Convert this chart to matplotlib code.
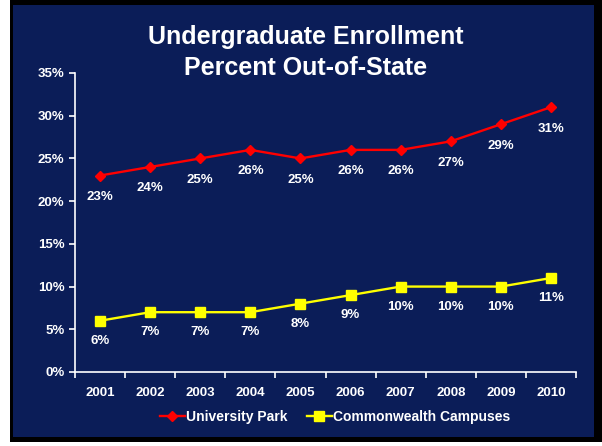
import matplotlib.pyplot as plt
from matplotlib.patches import Rectangle

plt.rcParams['font.family'] = ['Liberation Sans', 'DejaVu Sans']

years = ['2001', '2002', '2003', '2004', '2005', '2006', '2007', '2008', '2009', '2010']
univ_park = [23, 24, 25, 26, 25, 26, 26, 27, 29, 31]
commonwealth = [6, 7, 7, 7, 8, 9, 10, 10, 10, 11]

navy = '#0b1d58'
W, H = 602, 446

fig = plt.figure(figsize=(6.02, 4.46), dpi=100, facecolor='white')
# black frame + navy panel
fig.patches.append(Rectangle((10 / W, 4 / H), 592 / W, 442 / H, transform=fig.transFigure,
                             facecolor='black', edgecolor='none', zorder=-10))
fig.patches.append(Rectangle((13 / W, 9 / H), 581 / W, 432 / H, transform=fig.transFigure,
                             facecolor=navy, edgecolor='none', zorder=-9))

ax = fig.add_axes([75 / W, 1 - 372 / H, 501 / W, 299 / H])
ax.set_facecolor('none')
ax.set_zorder(2)

x = list(range(len(years)))
ax.plot(x, univ_park, color='#ff0000', lw=1.7, marker='D', ms=5.5, label='University Park', clip_on=False)
ax.plot(x, commonwealth, color='#ffff00', lw=1.7, marker='s', ms=6.5, label='Commonwealth Campuses', clip_on=False)

for xi, v in zip(x, univ_park):
    ax.annotate('%d%%' % v, (xi, v), xytext=(0, -15.5), textcoords='offset points',
                ha='center', va='center', color='white', fontsize=9.5, fontweight='bold')
for xi, v in zip(x, commonwealth):
    ax.annotate('%d%%' % v, (xi, v), xytext=(0, -14.5), textcoords='offset points',
                ha='center', va='center', color='white', fontsize=9.5, fontweight='bold')

ax.set_xlim(-0.5, len(years) - 0.5)
ax.set_ylim(0, 35)
ax.set_yticks(range(0, 36, 5))
ax.set_yticklabels(['%d%%' % t for t in range(0, 36, 5)])
ax.set_xticks(x)
ax.set_xticklabels(years)
ax.set_xticks([i - 0.5 for i in range(len(years) + 1)], minor=True)

for s in ['top', 'right']:
    ax.spines[s].set_visible(False)
for s in ['left', 'bottom']:
    ax.spines[s].set_color('white')
    ax.spines[s].set_linewidth(1.2)

ax.tick_params(axis='y', colors='white', length=4, width=1.2, labelsize=9.5)
ax.tick_params(axis='x', which='major', length=0, pad=11, colors='white', labelsize=9.5)
ax.tick_params(axis='x', which='minor', length=4, width=1.2, color='white')
for lab in ax.get_xticklabels() + ax.get_yticklabels():
    lab.set_fontweight('bold')

fig.text(306 / W, 1 - 37 / H, 'Undergraduate Enrollment', ha='center', va='center',
         color='white', fontsize=18, fontweight='bold')
fig.text(306 / W, 1 - 68 / H, 'Percent Out-of-State', ha='center', va='center',
         color='white', fontsize=18, fontweight='bold')

leg = fig.legend(loc='center', bbox_to_anchor=(335 / W, 1 - 417 / H), ncol=2, frameon=False,
                 handlelength=1.8, handletextpad=0.1, columnspacing=1.4,
                 prop={'size': 10, 'weight': 'bold'})
for t in leg.get_texts():
    t.set_color('white')

fig.savefig('out.png', dpi=100, facecolor='white')
